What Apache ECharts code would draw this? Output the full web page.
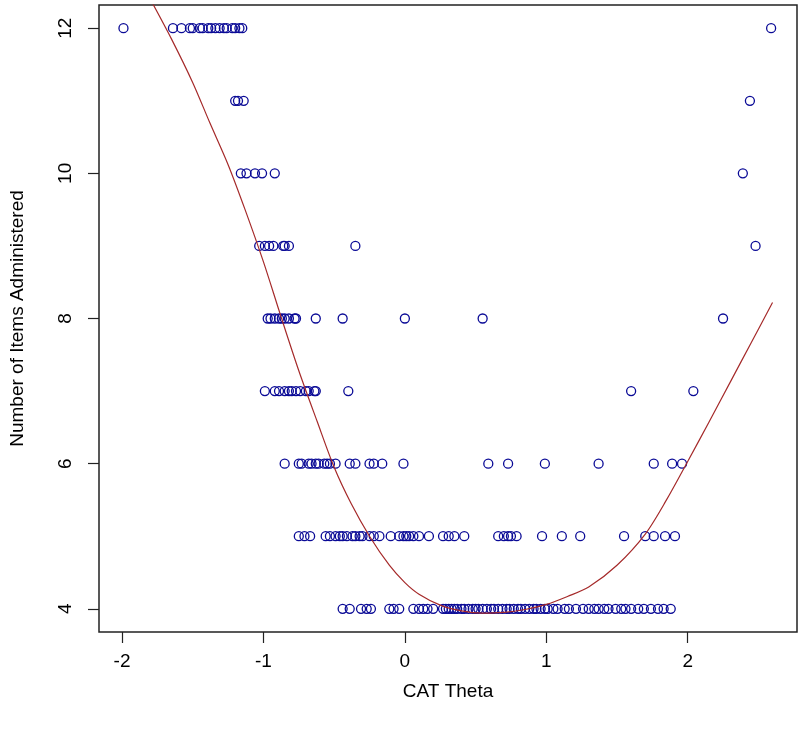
<!DOCTYPE html>
<html>
<head>
<meta charset="utf-8">
<script src="https://cdn.jsdelivr.net/npm/echarts@6/dist/echarts.min.js"></script>
<style>
html,body{margin:0;padding:0;background:#fff;}
#chart{width:800px;height:729px;}
</style>
</head>
<body>
<div id="chart"></div>
<script>
// CAT theta values for each number of items administered
const items4 = [-0.44,-0.39,-0.31,-0.27,-0.24,-0.11,-0.08,-0.04,0.06,0.10,0.13,0.16,0.20,0.27,0.29,0.31,0.33,0.35,0.37,0.40,0.42,0.45,0.48,0.50,0.52,0.55,0.58,0.61,0.63,0.66,0.69,0.72,0.74,0.77,0.80,0.82,0.85,0.88,0.91,0.93,0.96,0.99,1.01,1.05,1.08,1.13,1.16,1.21,1.26,1.30,1.34,1.37,1.41,1.44,1.49,1.53,1.56,1.60,1.65,1.69,1.74,1.79,1.83,1.88];
const items5 = [-0.75,-0.71,-0.67,-0.56,-0.53,-0.49,-0.46,-0.44,-0.41,-0.37,-0.35,-0.32,-0.30,-0.25,-0.22,-0.18,-0.10,-0.04,-0.01,0.01,0.03,0.06,0.10,0.17,0.27,0.31,0.35,0.42,0.66,0.70,0.73,0.75,0.79,0.97,1.11,1.24,1.55,1.70,1.76,1.84,1.91];
const items6 = [-0.85,-0.75,-0.73,-0.68,-0.66,-0.63,-0.61,-0.57,-0.55,-0.53,-0.49,-0.39,-0.35,-0.25,-0.22,-0.16,-0.01,0.59,0.73,0.99,1.37,1.76,1.89,1.96];
const items7 = [-0.99,-0.92,-0.89,-0.85,-0.82,-0.80,-0.77,-0.74,-0.70,-0.68,-0.64,-0.63,-0.40,1.60,2.04];
const items8 = [-0.97,-0.95,-0.92,-0.89,-0.87,-0.85,-0.82,-0.78,-0.77,-0.63,-0.44,0.00,0.55,2.25];
const items9 = [-1.03,-0.99,-0.96,-0.93,-0.86,-0.85,-0.82,-0.35,2.48];
const items10 = [-1.16,-1.12,-1.06,-1.01,-0.92,2.39];
const items11 = [-1.20,-1.18,-1.14,2.44];
const items12 = [-1.99,-1.64,-1.58,-1.52,-1.50,-1.45,-1.43,-1.39,-1.37,-1.34,-1.31,-1.28,-1.26,-1.22,-1.20,-1.17,-1.15,2.59];

// fitted curve
const curveX = [-1.80,-1.65,-1.50,-1.38,-1.25,-1.13,-1.00,-0.88,-0.75,-0.62,-0.50,-0.38,-0.25,-0.11,0.00,0.10,0.25,0.40,0.55,0.70,0.85,1.00,1.15,1.30,1.50,1.70,1.85,2.00,2.15,2.30,2.45,2.60];
const curveY = [12.40,11.85,11.25,10.70,10.12,9.50,8.78,8.05,7.28,6.58,5.95,5.45,5.00,4.60,4.36,4.20,4.05,3.97,3.94,3.95,3.99,4.06,4.17,4.30,4.60,5.03,5.50,6.03,6.57,7.12,7.67,8.22];

const xTicks = [-2,-1,0,1,2];
const yTicks = [4,6,8,10,12];

const groups = [[4,items4],[5,items5],[6,items6],[7,items7],[8,items8],[9,items9],[10,items10],[11,items11],[12,items12]];
const points = [];
groups.forEach(([n, arr]) => arr.forEach(t => points.push([t, n])));
const curve = curveX.map((x, i) => [x, curveY[i]]);

const font = '"Liberation Sans", Arial, sans-serif';
const chart = echarts.init(document.getElementById('chart'));
chart.setOption({
  animation: false,
  backgroundColor: '#fff',
  grid: {left: 96, right: 3, top: 5, bottom: 97, show: true, borderColor: '#222', borderWidth: 1.5, backgroundColor: 'transparent'},
  xAxis: {
    type: 'value', min: -2.163, max: 2.773,
    name: 'CAT Theta', nameLocation: 'middle', nameGap: 50,
    nameTextStyle: {fontFamily: font, fontSize: 19, color: '#000'},
    axisLine: {show: false, onZero: false},
    axisTick: {show: true, length: 11, customValues: xTicks, lineStyle: {color: '#222', width: 1.2}},
    axisLabel: {customValues: xTicks, margin: 20, fontFamily: font, fontSize: 19, color: '#000'},
    splitLine: {show: false}
  },
  yAxis: {
    type: 'value', min: 3.68, max: 12.32,
    name: 'Number of Items Administered', nameLocation: 'middle', nameGap: 72, nameRotate: 90,
    nameTextStyle: {fontFamily: font, fontSize: 19, color: '#000'},
    axisLine: {show: false, onZero: false},
    axisTick: {show: true, length: 11, customValues: yTicks, lineStyle: {color: '#222', width: 1.2}},
    axisLabel: {customValues: yTicks, rotate: 90, margin: 24, fontFamily: font, fontSize: 19, color: '#000'},
    splitLine: {show: false}
  },
  series: [
    {
      type: 'scatter', data: points, symbol: 'circle', symbolSize: 9,
      itemStyle: {color: 'rgba(255,255,255,0)', borderColor: '#0a0a96', borderWidth: 1.3, opacity: 1},
      z: 2
    },
    {
      type: 'line', data: curve, symbol: 'none', smooth: 0.3, clip: true,
      lineStyle: {color: '#a52a2a', width: 1.2},
      z: 3
    }
  ]
});
</script>
</body>
</html>
